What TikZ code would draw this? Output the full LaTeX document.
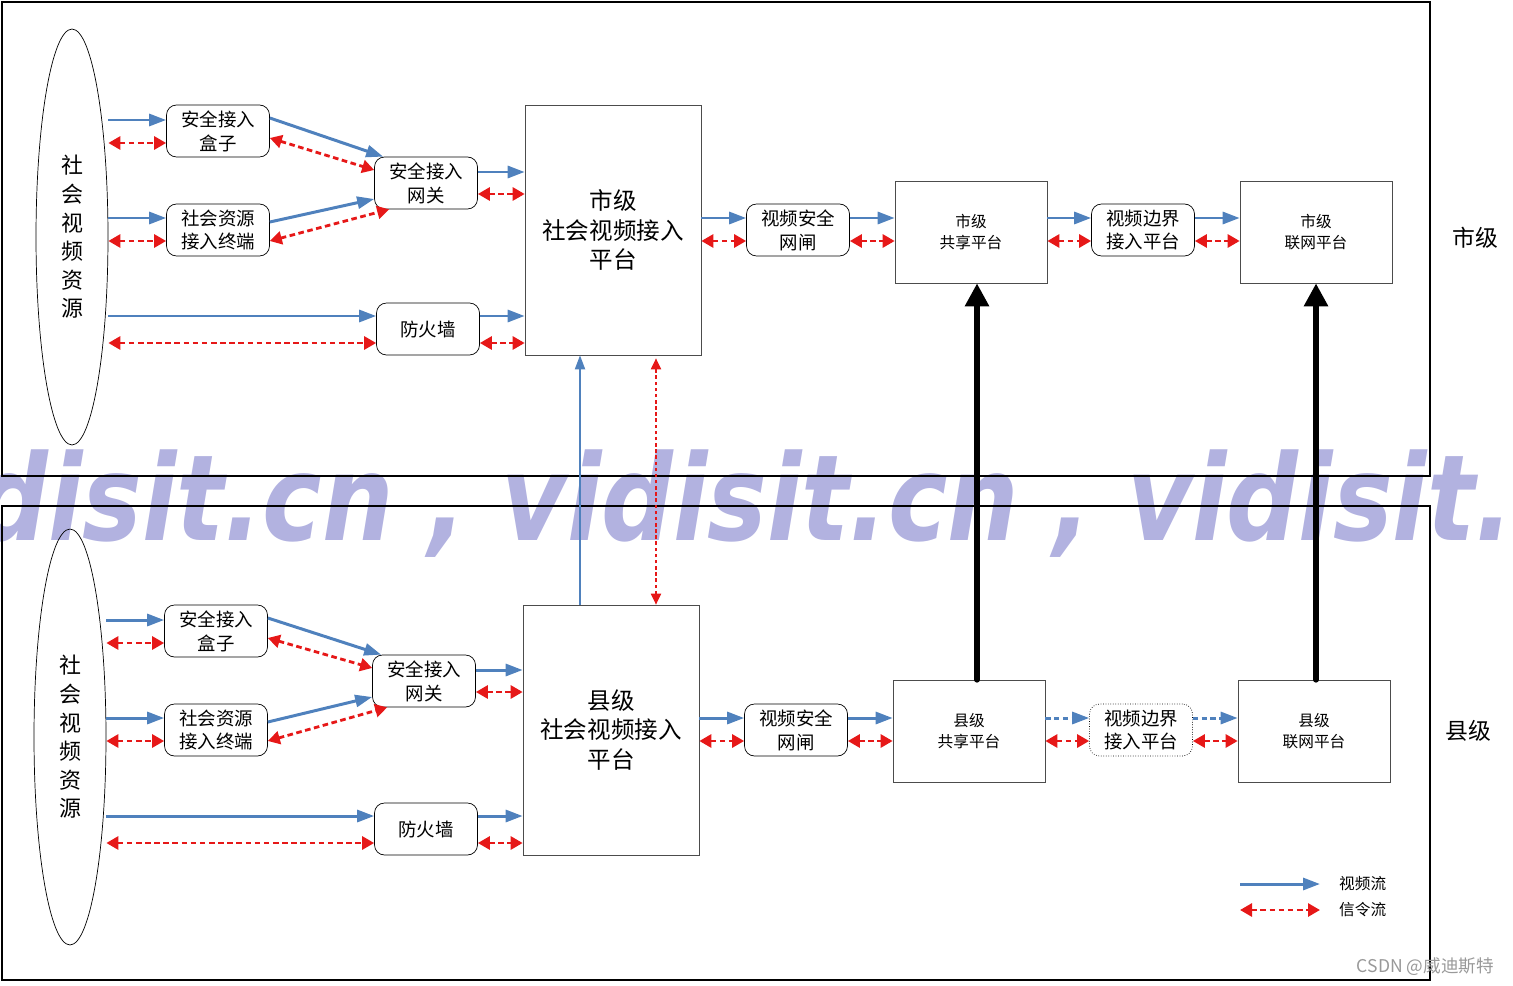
\documentclass[tikz,border=0pt]{standalone}
\usepackage{fontspec}
\setmainfont{Noto Sans CJK SC}
\newfontfamily\wmfont{DejaVu Sans}
\usetikzlibrary{shapes.geometric, arrows.meta, positioning}
\definecolor{vblue}{RGB}{79,129,189}
\definecolor{sred}{RGB}{230,24,24}
\definecolor{wmark}{RGB}{178,178,224}

\begin{document}
\begin{tikzpicture}[x=0.02cm, y=-0.02cm,
    box/.style={rectangle, rounded corners=0.2cm, draw=black, thin, minimum width=2.06cm, minimum height=1.04cm, align=center, inner sep=1pt, font=\fontsize{10.5}{13.6}\selectfont},
    plat/.style={rectangle, draw=black!70, thin, minimum width=3.52cm, minimum height=5cm, align=center, font=\fontsize{13.4}{17}\selectfont},
    share/.style={rectangle, draw=black!70, thin, minimum width=3.04cm, minimum height=2.04cm, align=center, font=\fontsize{8.9}{12}\selectfont},
    src/.style={ellipse, draw=black, thin, minimum width=1.44cm, minimum height=8.32cm, inner sep=0pt, align=center, font=\fontsize{12.5}{16.3}\selectfont},
    frame/.style={draw=black, line width=1.1pt},
    vid/.style={draw=vblue, line width=1.7pt, -{Triangle[length=0.34cm, width=0.24cm]}},
    sig/.style={draw=sred, line width=1.6pt, dash pattern=on 3.2pt off 2pt, {Triangle[length=0.24cm, width=0.26cm]}-{Triangle[length=0.24cm, width=0.26cm]}},
    up/.style={line width=3.4pt, line cap=round, -{Triangle[length=0.46cm, width=0.46cm]}}]

    \useasboundingbox (0,0) rectangle (1513,986);
    \begin{scope}
    \clip (0,0) rectangle (1513,986);

    % watermark
    \node[anchor=base west, inner sep=0pt, text=wmark] (wm) at (-124,540)
        {\wmfont\bfseries\itshape\fontsize{68}{70}\selectfont\scalebox{0.84}[1]{vidisit.cn , vidisit.cn , vidisit.}};

    % frames
    \draw[frame] (2,2) rectangle (1430,476);
    \draw[frame] (2,506) rectangle (1430,980);

    % upper level
    \node[src] (ssrc) at (72,237) {社\\会\\视\\频\\资\\源};
    \node[box] (sbox) at (218,131) {安全接入\\盒子};
    \node[box] (sterm) at (218,230) {社会资源\\接入终端};
    \node[box] (sgw) at (426,183) {安全接入\\网关};
    \node[box] (sfw) at (428,329) {防火墙};
    \node[plat] (splat) at (613,230) {市级\\社会视频接入\\平台};
    \node[box] (sgap) at (798,230) {视频安全\\网闸};
    \node[share] (sshare) at (971,232) {市级\\共享平台};
    \node[box] (sedge) at (1143,230) {视频边界\\接入平台};
    \node[share] (snet) at (1316,232) {市级\\联网平台};
    \node[font=\fontsize{13}{15}\selectfont] (slabel) at (1475,238) {市级};

    \draw[vid] ([yshift=2.2mm]sbox.west -| ssrc.east) -- ([yshift=2.2mm]sbox.west);
    \draw[sig] ([yshift=-2.4mm]sbox.west -| ssrc.east) -- ([yshift=-2.4mm]sbox.west);
    \draw[vid] ([yshift=2.4mm]sterm.west -| ssrc.east) -- ([yshift=2.4mm]sterm.west);
    \draw[sig] ([yshift=-2.2mm]sterm.west -| ssrc.east) -- ([yshift=-2.2mm]sterm.west);
    \draw[vid] ([yshift=2.6mm]sbox.east) -- ([xshift=1.8mm]sgw.north west);
    \draw[sig] ([yshift=-1.4mm]sbox.east) -- ([yshift=2.6mm]sgw.west);
    \draw[vid] ([yshift=1.6mm]sterm.east) -- ([yshift=-3.2mm]sgw.west);
    \draw[sig] ([yshift=-2.2mm]sterm.east) -- ([xshift=3mm]sgw.south west);
    \draw[vid] ([yshift=2.6mm]sfw.west -| ssrc.east) -- ([yshift=2.6mm]sfw.west);
    \draw[sig] ([yshift=-2.8mm]sfw.west -| ssrc.east) -- ([yshift=-2.8mm]sfw.west);
    \draw[vid] ([yshift=2.2mm]sgw.east) -- ([yshift=2.2mm]sgw.east -| splat.west);
    \draw[sig] ([yshift=-2.2mm]sgw.east) -- ([yshift=-2.2mm]sgw.east -| splat.west);
    \draw[vid] ([yshift=2.6mm]sfw.east) -- ([yshift=2.6mm]sfw.east -| splat.west);
    \draw[sig] ([yshift=-2.8mm]sfw.east) -- ([yshift=-2.8mm]sfw.east -| splat.west);
    \draw[vid] ([yshift=2.4mm]sgap.west -| splat.east) -- ([yshift=2.4mm]sgap.west);
    \draw[sig] ([yshift=-2.2mm]sgap.west -| splat.east) -- ([yshift=-2.2mm]sgap.west);
    \draw[vid] ([yshift=2.4mm]sgap.east) -- ([yshift=2.4mm]sgap.east -| sshare.west);
    \draw[sig] ([yshift=-2.2mm]sgap.east) -- ([yshift=-2.2mm]sgap.east -| sshare.west);
    \draw[vid] ([yshift=2.4mm]sedge.west -| sshare.east) -- ([yshift=2.4mm]sedge.west);
    \draw[sig] ([yshift=-2.2mm]sedge.west -| sshare.east) -- ([yshift=-2.2mm]sedge.west);
    \draw[vid] ([yshift=2.4mm]sedge.east) -- ([yshift=2.4mm]sedge.east -| snet.west);
    \draw[sig] ([yshift=-2.2mm]sedge.east) -- ([yshift=-2.2mm]sedge.east -| snet.west);

    % lower level
    \node[src] (xsrc) at (70,737) {社\\会\\视\\频\\资\\源};
    \node[box] (xbox) at (216,631) {安全接入\\盒子};
    \node[box] (xterm) at (216,730) {社会资源\\接入终端};
    \node[box] (xgw) at (424,681) {安全接入\\网关};
    \node[box] (xfw) at (426,829) {防火墙};
    \node[plat] (xplat) at (611,730) {县级\\社会视频接入\\平台};
    \node[box] (xgap) at (796,730) {视频安全\\网闸};
    \node[share] (xshare) at (969,731) {县级\\共享平台};
    \node[box, densely dotted] (xedge) at (1141,730) {视频边界\\接入平台};
    \node[share] (xnet) at (1314,731) {县级\\联网平台};
    \node[font=\fontsize{13}{15}\selectfont] (xlabel) at (1468,731) {县级};

    \draw[vid] ([yshift=2.2mm]xbox.west -| xsrc.east) -- ([yshift=2.2mm]xbox.west);
    \draw[sig] ([yshift=-2.4mm]xbox.west -| xsrc.east) -- ([yshift=-2.4mm]xbox.west);
    \draw[vid] ([yshift=2.4mm]xterm.west -| xsrc.east) -- ([yshift=2.4mm]xterm.west);
    \draw[sig] ([yshift=-2.2mm]xterm.west -| xsrc.east) -- ([yshift=-2.2mm]xterm.west);
    \draw[vid] ([yshift=2.6mm]xbox.east) -- ([xshift=1.8mm]xgw.north west);
    \draw[sig] ([yshift=-1.4mm]xbox.east) -- ([yshift=2.6mm]xgw.west);
    \draw[vid] ([yshift=1.6mm]xterm.east) -- ([yshift=-3.2mm]xgw.west);
    \draw[sig] ([yshift=-2.2mm]xterm.east) -- ([xshift=3mm]xgw.south west);
    \draw[vid] ([yshift=2.6mm]xfw.west -| xsrc.east) -- ([yshift=2.6mm]xfw.west);
    \draw[sig] ([yshift=-2.8mm]xfw.west -| xsrc.east) -- ([yshift=-2.8mm]xfw.west);
    \draw[vid] ([yshift=2.2mm]xgw.east) -- ([yshift=2.2mm]xgw.east -| xplat.west);
    \draw[sig] ([yshift=-2.2mm]xgw.east) -- ([yshift=-2.2mm]xgw.east -| xplat.west);
    \draw[vid] ([yshift=2.6mm]xfw.east) -- ([yshift=2.6mm]xfw.east -| xplat.west);
    \draw[sig] ([yshift=-2.8mm]xfw.east) -- ([yshift=-2.8mm]xfw.east -| xplat.west);
    \draw[vid] ([yshift=2.4mm]xgap.west -| xplat.east) -- ([yshift=2.4mm]xgap.west);
    \draw[sig] ([yshift=-2.2mm]xgap.west -| xplat.east) -- ([yshift=-2.2mm]xgap.west);
    \draw[vid] ([yshift=2.4mm]xgap.east) -- ([yshift=2.4mm]xgap.east -| xshare.west);
    \draw[sig] ([yshift=-2.2mm]xgap.east) -- ([yshift=-2.2mm]xgap.east -| xshare.west);
    \draw[vid, dash pattern=on 3pt off 2pt] ([yshift=2.4mm]xedge.west -| xshare.east) -- ([yshift=2.4mm]xedge.west);
    \draw[sig] ([yshift=-2.2mm]xedge.west -| xshare.east) -- ([yshift=-2.2mm]xedge.west);
    \draw[vid, dash pattern=on 3pt off 2pt] ([yshift=2.4mm]xedge.east) -- ([yshift=2.4mm]xedge.east -| xnet.west);
    \draw[sig] ([yshift=-2.2mm]xedge.east) -- ([yshift=-2.2mm]xedge.east -| xnet.west);

    % between levels
    \draw[vid, line width=1.1pt, -{Triangle[length=0.28cm, width=0.2cm]}] ([xshift=-0.62cm]xplat.north) -- ([xshift=-0.62cm]xplat.north |- splat.south);
    \draw[sig, line width=1.1pt, dash pattern=on 2pt off 1.5pt, {Triangle[length=0.22cm, width=0.2cm]}-{Triangle[length=0.22cm, width=0.2cm]}] ([xshift=0.9cm]xplat.north) -- ([xshift=0.9cm,yshift=-0.06cm]xplat.north |- splat.south);
    \draw[up] ([xshift=0.16cm]xshare.north) -- ([xshift=0.16cm]xshare.north |- sshare.south);
    \draw[up] ([xshift=0.04cm]xnet.north) -- ([xshift=0.04cm]xnet.north |- snet.south);

    % legend
    \coordinate (lvA) at (1240,884);
    \coordinate (lvB) at (1320,884);
    \coordinate (lsA) at (1240,910);
    \coordinate (lsB) at (1320,910);
    \draw[vid] (lvA) -- (lvB);
    \draw[sig] (lsA) -- (lsB);
    \node[anchor=west, font=\fontsize{8.9}{10}\selectfont] (lvtext) at (1333,884) {视频流};
    \node[anchor=west, font=\fontsize{8.9}{10}\selectfont] (lstext) at (1333,910) {信令流};

    \node[anchor=east, text=black!40, font=\fontsize{10}{12}\selectfont] (csdn) at (1500,967) {CSDN @威迪斯特};
    \end{scope}
\end{tikzpicture}
\end{document}
